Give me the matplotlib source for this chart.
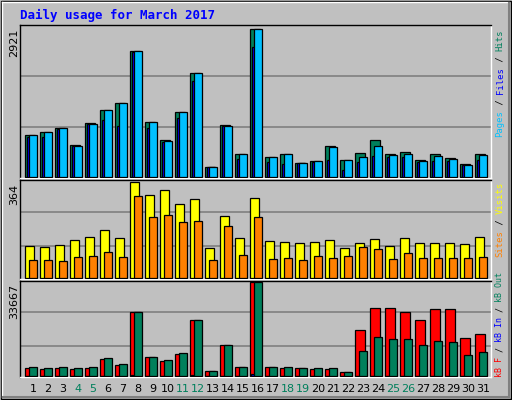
import matplotlib
matplotlib.use("Agg")
import matplotlib.pyplot as plt
from matplotlib.patches import Rectangle

days = list(range(1, 32))
hits = [837,897,976,640,1075,1332,1451,2479,1095,739,1292,2044,204,1035,462,2921,402,462,284,323,620,343,481,739,462,501,343,462,382,264,462]
pages = [837,897,976,620,1055,1332,1451,2479,1095,719,1292,2044,204,1015,462,2921,402,462,284,323,600,343,402,620,442,462,323,422,363,244,442]
files = [798,798,956,620,1055,1134,1016,2459,976,699,1173,1886,204,1015,363,2558,303,264,284,303,343,145,303,422,402,402,303,323,323,244,343]
visits = [119,115,123,142,154,182,150,364,313,332,281,297,111,233,150,301,138,135,131,135,142,111,131,146,119,150,131,131,131,127,154]
sites = [67,67,63,79,83,99,79,309,230,237,210,214,67,194,87,230,71,75,67,83,75,83,115,107,71,95,75,75,75,75,79]
kb_f = [2950,2581,2950,2581,2950,6268,4056,22859,6882,5530,8111,20278,1843,11061,3318,33667,3318,2950,2950,2581,2581,1475,16591,24334,24334,22859,20278,23965,23965,13642,15117]
kb_in = [150,150,150,150,150,150,150,600,150,150,150,600,150,150,150,700,150,150,150,150,150,150,150,150,150,150,150,150,150,150,150]
kb_out = [3318,2950,3318,2950,3318,6637,4424,22859,6882,5899,8480,20278,1843,11061,3318,33667,3318,3318,2950,2950,2950,1475,9218,14011,13273,13273,11061,12536,12167,7743,8849]
weekend = [4,5,11,12,18,19,25,26]
grid_top = [980, 1990]
grid_mid = [119, 249]
grid_bot = [10692, 22982]

W, H = 512, 400
fig = plt.figure(figsize=(5.12, 4.0), dpi=100, facecolor='#C0C0C0')
mono = 'DejaVu Sans Mono'

bg = fig.add_axes([0, 0, 1, 1]); bg.set_axis_off()
bg.set_xlim(0, W); bg.set_ylim(H, 0)
bg.add_patch(Rectangle((0.5, 0.5), W - 1.5, H - 1.5, fill=False, ec='black', lw=1))
bg.plot([2, W - 3], [2, 2], color='white', lw=1)
bg.plot([2, 2], [2, H - 3], color='white', lw=1)
bg.plot([3, W - 3], [H - 3, H - 3], color='#808080', lw=1.5)
bg.plot([W - 3, W - 3], [3, H - 3], color='#808080', lw=1.5)

def panel(y0, y1):
    ax = fig.add_axes([20 / W, 1 - y1 / H, (491 - 20) / W, (y1 - y0) / H])
    ax.set_facecolor('#C0C0C0')
    ax.set_xlim(0.133, 31.53)
    for s in ['left', 'top']:
        ax.spines[s].set_color('black')
    for s in ['right', 'bottom']:
        ax.spines[s].set_color('white')
    for s in ax.spines.values():
        s.set_linewidth(1)
    ax.set_xticks([]); ax.set_yticks([])
    return ax

ew = 0.9
def bars(ax, vals, l, r, col):
    ax.bar([d + l for d in days], vals, width=r - l, align='edge', color=col, edgecolor='black', linewidth=ew, zorder=3)

ax1 = panel(25, 178)
ax1.set_ylim(-20, 3000)
for g in grid_top:
    ax1.axhline(g, color='#808080', lw=1.2, zorder=1)
bars(ax1, hits, -0.51, 0.1, '#00805C')
bars(ax1, files, -0.40, 0.1, '#0000FF')
bars(ax1, pages, -0.25, 0.25, '#00C0FF')

ax2 = panel(180, 278.5)
ax2.set_ylim(-2.9, 370)
for g in grid_mid:
    ax2.axhline(g, color='#808080', lw=1.2, zorder=1)
bars(ax2, visits, -0.51, 0.05, '#FFFF00')
bars(ax2, sites, -0.25, 0.25, '#FF8000')

ax3 = panel(281, 377)
ax3.set_ylim(-200, 34067)
for g in grid_bot:
    ax3.axhline(g, color='#808080', lw=1.2, zorder=1)
bars(ax3, kb_f, -0.51, 0.1, '#FF0000')
bars(ax3, kb_in, -0.45, 0.1, '#0000FF')
bars(ax3, kb_out, -0.25, 0.25, '#00805C')

bg.text(20, 15, 'Daily usage for March 2017', color='#0000FF', fontsize=9, fontweight='bold',
        family=mono, va='center', ha='left')
for y, t in [(29, '2921'), (184, '364'), (284, '33667')]:
    bg.text(14, y, t, rotation=90, fontsize=8, family='DejaVu Sans', va='top', ha='center', color='black')

def vlabel(parts, ybottom, fs):
    adv = 0.602 * fs * 100 / 72
    y = ybottom
    for txt, col in parts:
        bg.text(500, y, txt, rotation=90, fontsize=fs, family=mono, color=col,
                va='bottom', ha='center', rotation_mode='anchor' if False else 'default')
        y -= len(txt) * adv
vlabel([('Pages', '#00C0FF'), (' / ', 'black'), ('Files', '#0000FF'), (' / ', 'black'), ('Hits', '#00805C')], 137, 6.4)
vlabel([('Sites', '#FF8000'), (' / ', 'black'), ('Visits', '#FFFF00')], 257, 6.4)
vlabel([('kB F', '#FF0000'), (' / ', 'black'), ('kB In', '#0000FF'), (' / ', 'black'), ('kB Out', '#00805C')], 377, 6.0)

for d in days:
    x = 33 + (d - 1) * 15
    bg.text(x, 389, str(d), fontsize=8, family='DejaVu Sans', ha='center', va='center',
            color='#00805C' if d in weekend else 'black')

fig.savefig('out.png', dpi=100, facecolor='#C0C0C0')
